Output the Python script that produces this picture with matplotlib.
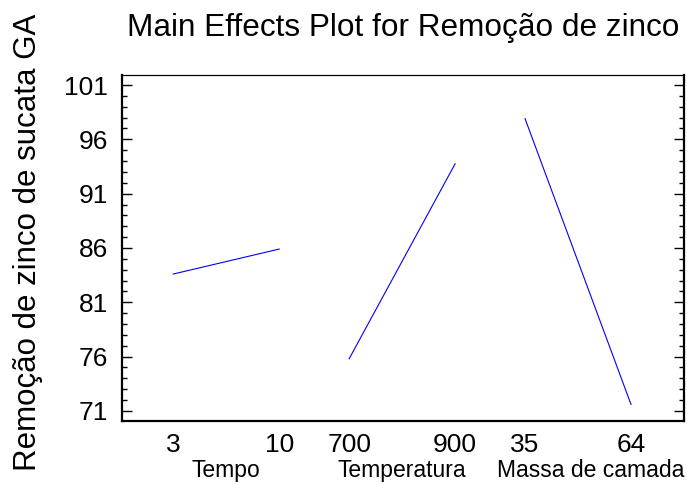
import numpy as np
import matplotlib
matplotlib.use("Agg")
from matplotlib import pyplot as plt
from matplotlib.ticker import MultipleLocator
from matplotlib.transforms import blended_transform_factory

plt.rcParams['font.family'] = ['Liberation Sans', 'DejaVu Sans']

# dados
factors = ["Tempo", "Temperatura", "Massa de camada"]
level_labels = [["3", "10"], ["700", "900"], ["35", "64"]]
means = [[83.6, 85.9], [75.8, 93.75], [97.9, 71.6]]
y_ticks = [71, 76, 81, 86, 91, 96, 101]

gap = 0.66  # espaco entre os fatores
x_lim = (-0.484, 4.82)

fig = plt.figure(figsize=(6.87, 4.83), dpi=100)
ax = fig.add_axes([0.1776, 0.129, 0.818, 0.7157])
trans = blended_transform_factory(ax.transData, fig.transFigure)

xpos_all = []
xlab_all = []
for g, name in enumerate(factors):
    x0 = g * (1 + gap)
    xs = [x0, x0 + 1]
    ax.plot(xs, means[g], color="#0000FF", lw=0.8)
    xpos_all += xs
    xlab_all += level_labels[g]
    # nome do fator no fundo da figura; o ultimo encostado na borda direita
    if g == len(factors) - 1:
        ax.text(x_lim[1], 0.0125, name, transform=trans,
                fontsize=16.5, ha="right", va="baseline")
    else:
        ax.text(x0 + 0.5, 0.0125, name, transform=trans,
                fontsize=16.5, ha="center", va="baseline")

ax.set_xlim(*x_lim)
ax.set_ylim(70.1, 101.92)
ax.set_xticks(xpos_all)
ax.set_xticklabels(xlab_all, fontsize=19)
ax.tick_params(axis="x", length=0, pad=9)

ax.set_yticks(y_ticks)
ax.yaxis.set_minor_locator(MultipleLocator(1))
ax.tick_params(axis="y", which="major", direction="in", length=7.5, width=1,
               left=True, right=True, labelsize=19, pad=10)
ax.tick_params(axis="y", which="minor", direction="in", length=3.8, width=1,
               left=True, right=True)

for s in ["left", "bottom", "right"]:
    ax.spines[s].set_linewidth(1.6)
ax.spines["top"].set_linewidth(0.9)

ax.set_title("Main Effects Plot for Remoção de zinco", fontsize=22.7, pad=28)
ax.set_ylabel("Remoção de zinco de sucata GA", fontsize=22.5)
ax.yaxis.set_label_coords(-0.1406, 0.515)

fig.savefig("out.png", dpi=100)
